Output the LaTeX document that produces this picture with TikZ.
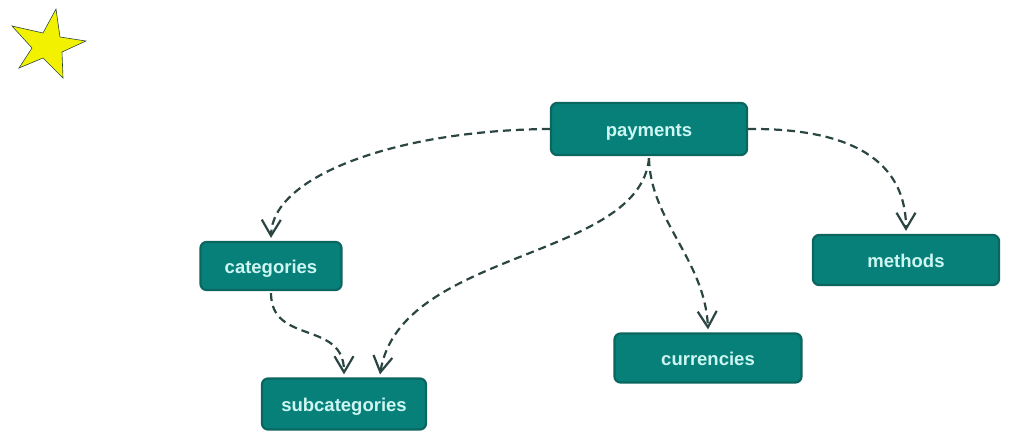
\documentclass[tikz,border=0pt]{standalone}
\usepackage{fontspec}
\setmainfont{Liberation Sans}
\usetikzlibrary{arrows.meta}
\definecolor{boxfill}{HTML}{08807A}
\definecolor{boxline}{HTML}{0B6660}
\definecolor{boxtext}{HTML}{CDF6F2}
\definecolor{edgecol}{HTML}{2B4642}
\definecolor{staryellow}{HTML}{F2F200}
\begin{document}
\begin{tikzpicture}[x=1pt,y=-1pt,
  tbl/.style={draw=boxline,line width=2.2pt,fill=boxfill,rounded corners=6pt,
    text=boxtext,font=\fontsize{18.5}{22}\selectfont\bfseries,inner sep=0pt,
    text height=14pt,text depth=0pt},
  link/.style={draw=edgecol,line width=2.2pt,dash pattern=on 8pt off 5pt,
    -{Straight Barb[length=16pt,width=19pt,line width=2.2pt]}}]
\useasboundingbox (0,0) rectangle (1011,439);
\fill[staryellow,draw=edgecol,line width=0.6pt]
  (56,9) -- (60,37) -- (86,41) -- (62,52) -- (63,78) -- (43,58) -- (19,68) -- (32,48) -- (12,26) -- (43,33) -- cycle;
\node[tbl,minimum width=196pt,minimum height=52pt] (pay) at (649,129) {payments};
\node[tbl,minimum width=141pt,minimum height=48pt] (cat) at (271,266) {categories};
\node[tbl,minimum width=164pt,minimum height=51pt] (sub) at (344,404) {subcategories};
\node[tbl,minimum width=187pt,minimum height=49pt] (cur) at (708,358) {currencies};
\node[tbl,minimum width=186pt,minimum height=50pt] (met) at (906,260) {methods};
\coordinate (subA) at ([yshift=3pt]sub.north);
\coordinate (subB) at ([xshift=36pt,yshift=3pt]sub.north);
\draw[link] (pay.west) .. controls (400,130) and (272,175) .. ([yshift=3pt]cat.north);
\draw[link] (pay.east) .. controls (850,128) and (906,160) .. ([yshift=3pt]met.north);
\draw[link] ([yshift=-2pt]pay.south) .. controls (650,220) and (705,260) .. ([yshift=3pt]cur.north);
\draw[link] ([yshift=-2pt]pay.south) .. controls (640,260) and (400,250) .. (subB);
\draw[link] ([yshift=-2pt]cat.south) .. controls (271,345) and (344,320) .. (subA);
\end{tikzpicture}
\end{document}
